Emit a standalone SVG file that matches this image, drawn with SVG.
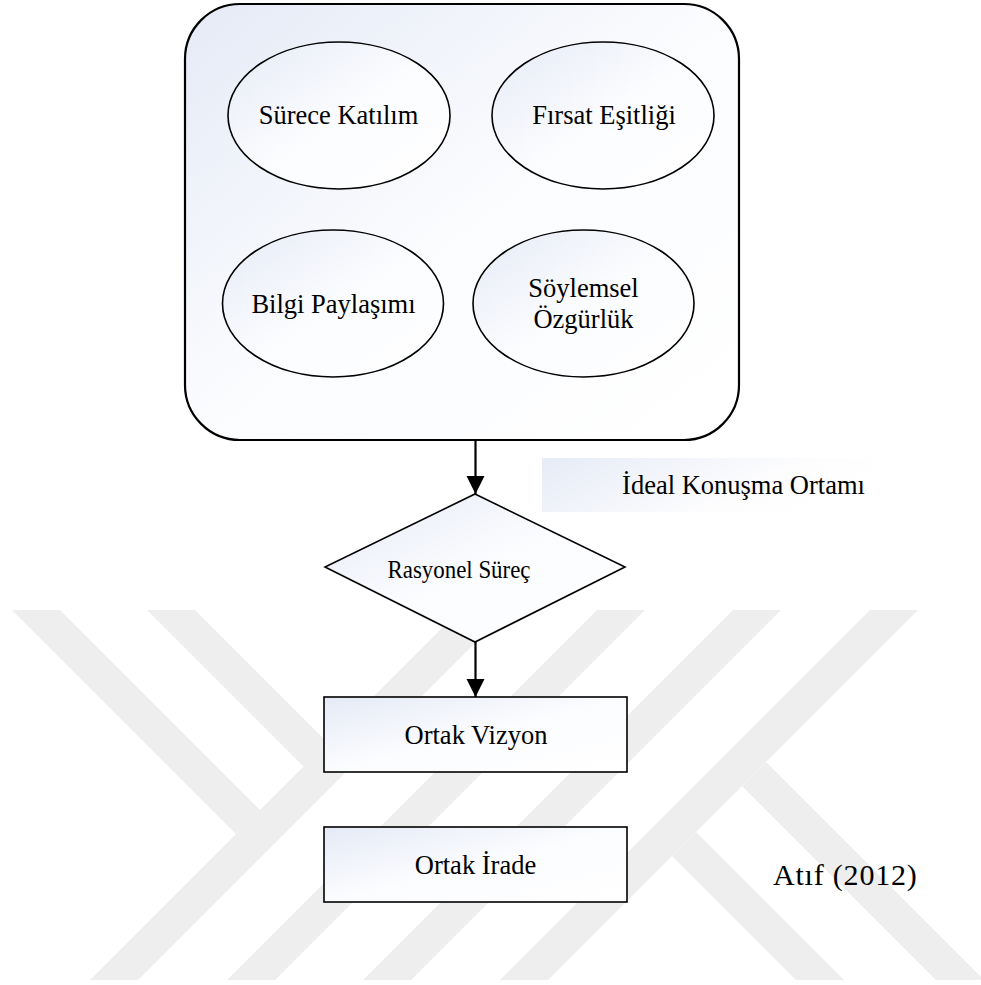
<svg xmlns="http://www.w3.org/2000/svg" width="981" height="985" viewBox="0 0 981 985">
<defs>
<linearGradient id="gf" x1="0" y1="0" x2="1" y2="1">
<stop offset="0" stop-color="#e5eaf6"/>
<stop offset="0.5" stop-color="#fbfcfe"/>
<stop offset="1" stop-color="#ffffff"/>
</linearGradient>
<linearGradient id="glab" x1="0" y1="0" x2="1" y2="0.3">
<stop offset="0" stop-color="#e6ebf6"/>
<stop offset="0.7" stop-color="#fdfdfe"/>
<stop offset="1" stop-color="#ffffff"/>
</linearGradient>
<marker id="arr" viewBox="0 0 18 20" refX="18" refY="9" markerUnits="userSpaceOnUse" markerWidth="18" markerHeight="20" orient="auto">
<path d="M0,0 L18,9 L0,18 Z" fill="#000"/>
</marker>
<style>
.wm{fill:#eeeeee}
.shape{fill:url(#gf);stroke:#000;stroke-width:1.6}
.outer{fill:url(#gf);stroke:#000;stroke-width:2.2}
.t{font-family:"Liberation Serif","Times New Roman",serif;font-size:26.5px;fill:#000;text-anchor:middle}
.conn{stroke:#000;stroke-width:2.2;fill:none}
</style>
</defs>
<rect width="981" height="985" fill="#fff"/>
<g id="watermark">
<polygon class="wm" points="12,610 60,610 260,810 236,834"/>
<polygon class="wm" points="147,610 195,610 327.5,742.5 303.5,766.5"/>
<polygon class="wm" points="460,610 508,610 138,980 90,980"/>
<polygon class="wm" points="597,610 645,610 275,980 227,980"/>
<polygon class="wm" points="733,610 781,610 411,980 363,980"/>
<polygon class="wm" points="870,610 918,610 548,980 500,980"/>
<polygon class="wm" points="766,762 984,980 936,980 742,786"/>
<polygon class="wm" points="696,832 844,980 796,980 672,856"/>
</g>
<g id="ideal-konusma-ortami">
<rect class="outer" x="185" y="4" width="554" height="436" rx="55" ry="55"/>
<rect x="542" y="458" width="360" height="54" fill="url(#glab)"/>
<text class="t" x="743.5" y="494">İdeal Konuşma Ortamı</text>
</g>
<g id="surece-katilim">
<ellipse class="shape" cx="339" cy="115.5" rx="111" ry="73.5"/>
<text class="t" x="338.5" y="124">Sürece Katılım</text>
</g>
<g id="firsat-esitligi">
<ellipse class="shape" cx="603" cy="115.5" rx="111" ry="73.5"/>
<text class="t" x="604" y="124">Fırsat Eşitliği</text>
</g>
<g id="bilgi-paylasimi">
<ellipse class="shape" cx="333" cy="303.5" rx="110.5" ry="73.5"/>
<text class="t" x="333.5" y="313">Bilgi Paylaşımı</text>
</g>
<g id="soylemsel-ozgurluk">
<ellipse class="shape" cx="583.5" cy="303.5" rx="110.5" ry="73.5"/>
<text class="t" x="583.5" y="297">Söylemsel</text>
<text class="t" x="583.5" y="328">Özgürlük</text>
</g>
<g id="rasyonel-surec">
<polygon class="shape" points="475,494 625,567 475,642 325,567"/>
<text class="t" x="459" y="578" style="font-size:25px" textLength="143" lengthAdjust="spacingAndGlyphs">Rasyonel Süreç</text>
</g>
<g id="ortak-vizyon">
<rect class="shape" x="324" y="697" width="303" height="75"/>
<text class="t" x="476" y="744">Ortak Vizyon</text>
</g>
<g id="ortak-irade">
<rect class="shape" x="324" y="827" width="303" height="75"/>
<text class="t" x="475.5" y="874">Ortak İrade</text>
</g>
<g id="atif">
<text x="773" y="885" style="font-family:'Liberation Serif','Times New Roman',serif;font-size:30px;fill:#000;letter-spacing:0.8px">Atıf (2012)</text>
</g>
<g id="connectors">
<line class="conn" x1="475.5" y1="441" x2="475.5" y2="494" marker-end="url(#arr)"/>
<line class="conn" x1="475.5" y1="642" x2="475.5" y2="697" marker-end="url(#arr)"/>
</g>
</svg>
